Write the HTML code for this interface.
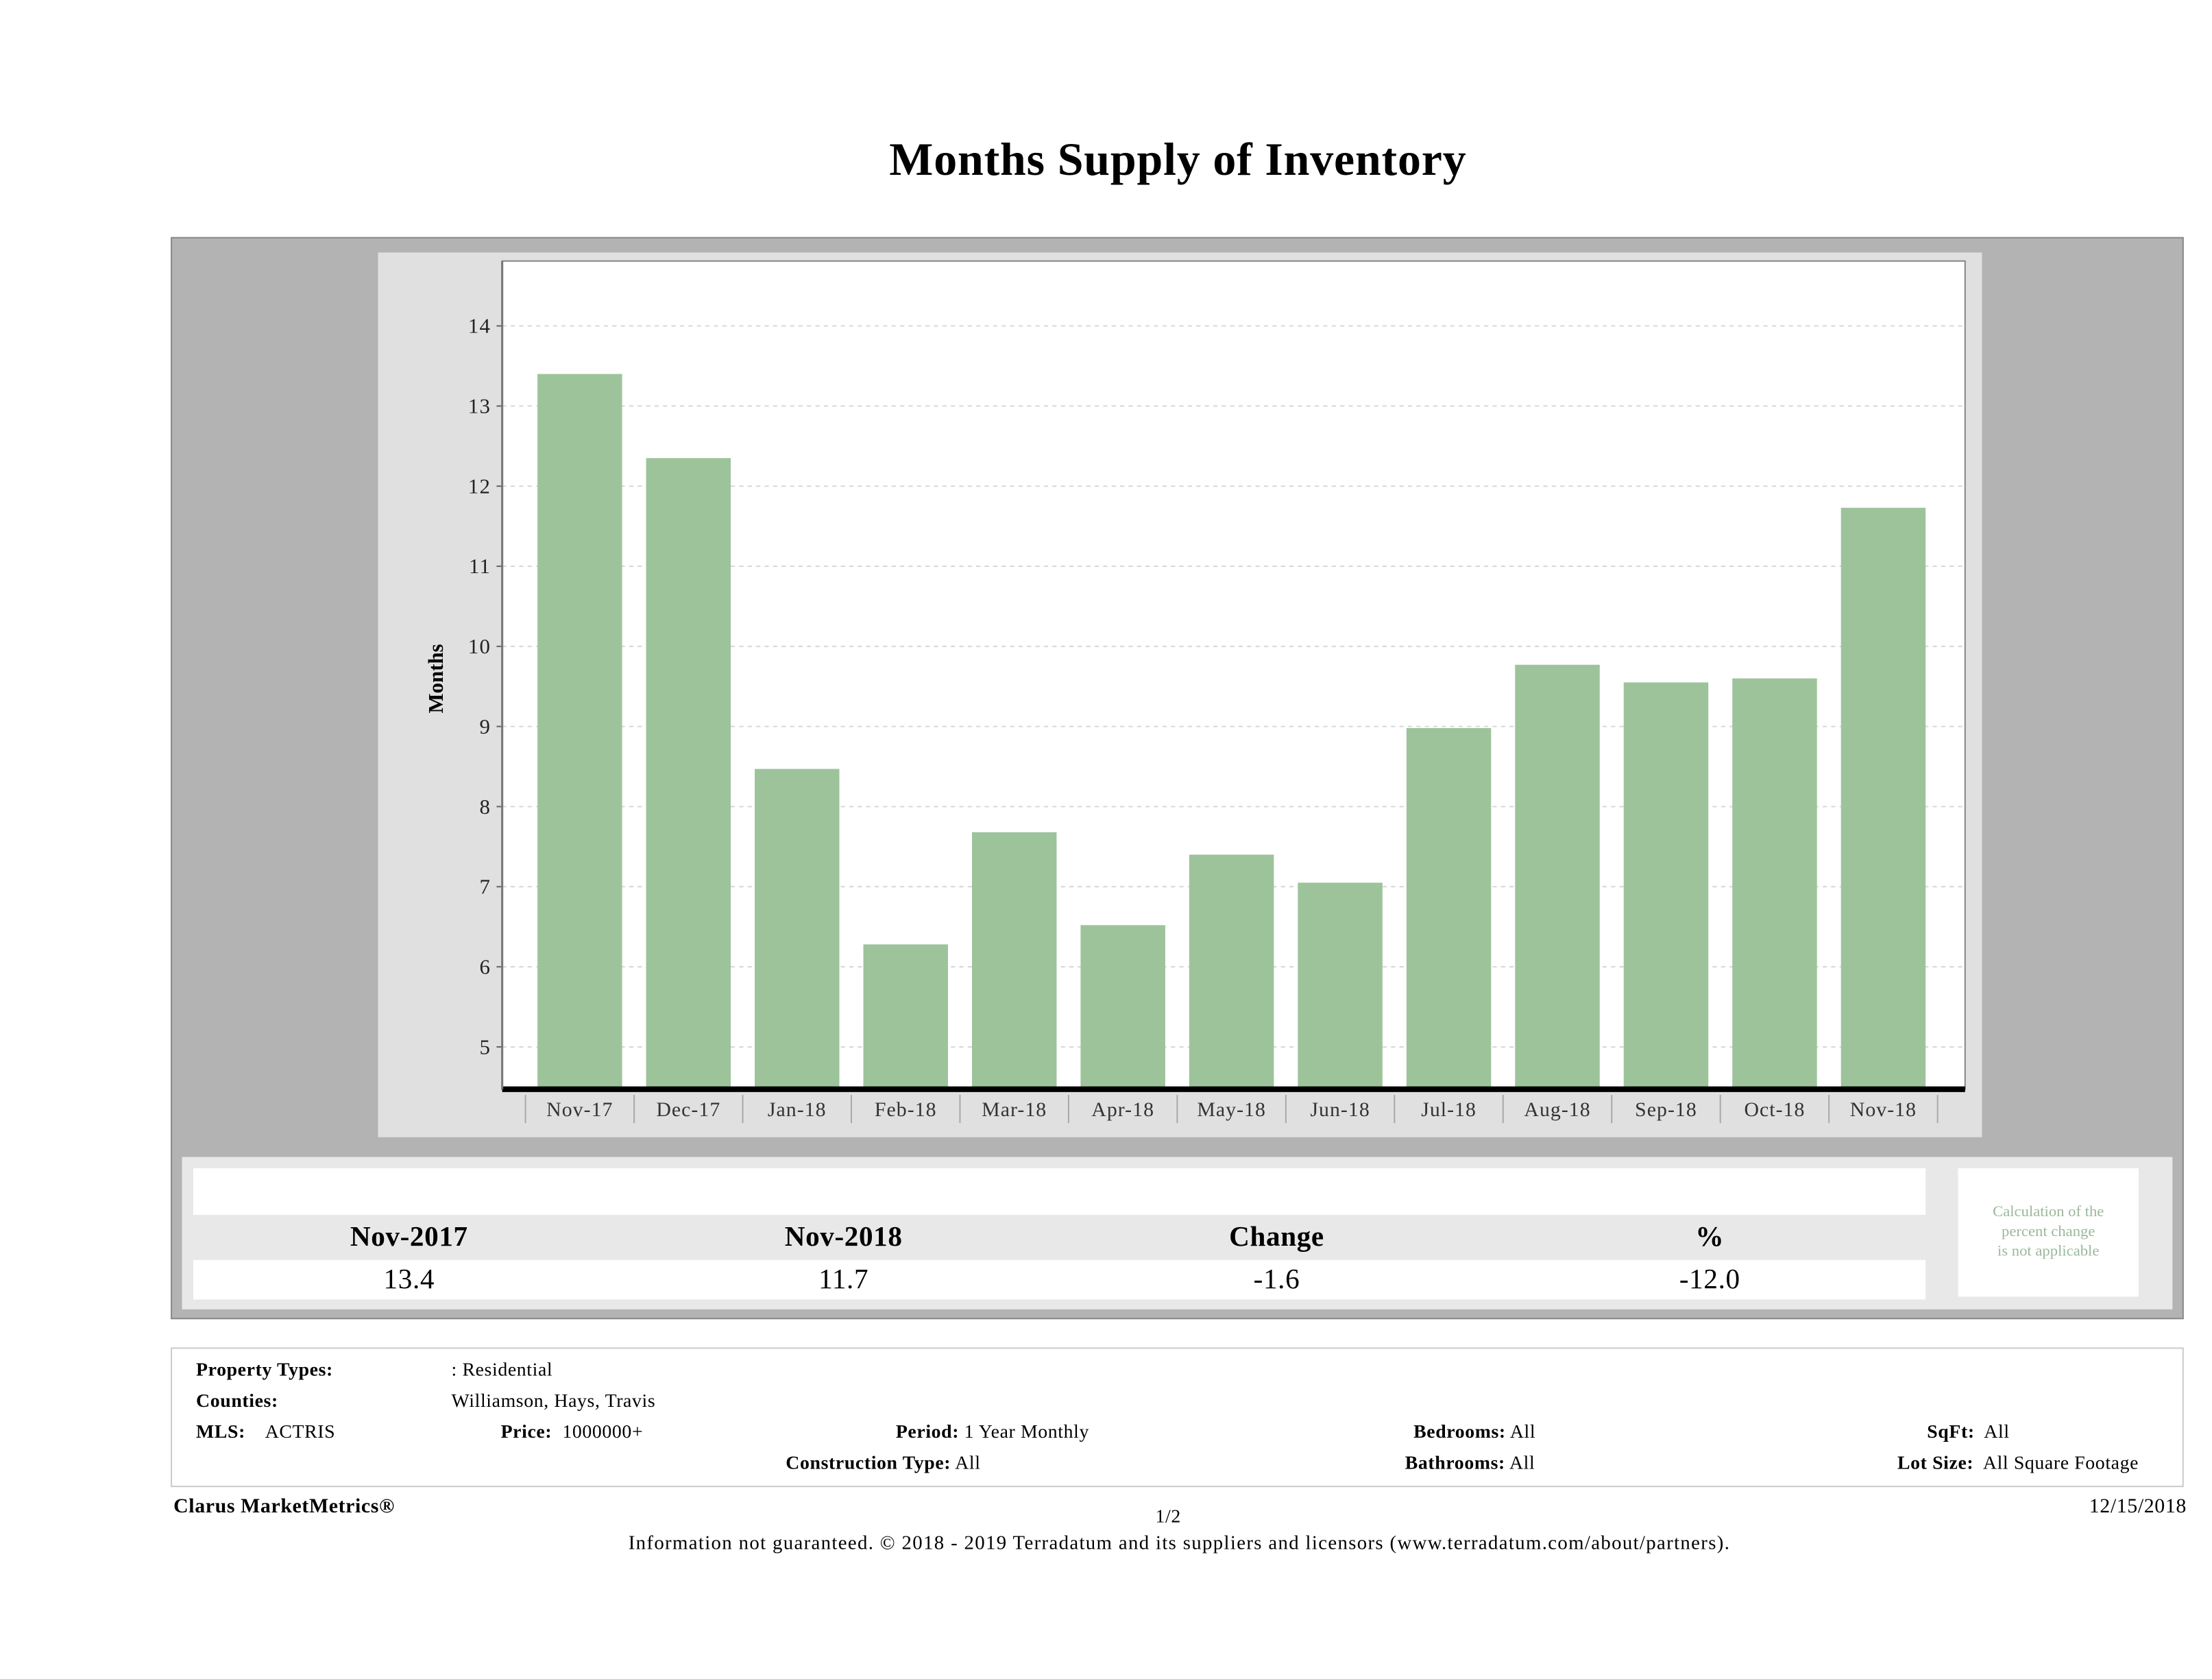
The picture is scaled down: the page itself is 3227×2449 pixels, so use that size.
<!DOCTYPE html>
<html><head><meta charset="utf-8"><style>
html,body{margin:0;padding:0;background:#fff;}
body{width:3227px;height:2448px;overflow:hidden;position:relative;font-family:"Liberation Serif",serif;}
#wrap{position:absolute;left:0;top:0;width:1568px;height:1190px;transform:scale(2.058);transform-origin:0 0;}
.a{position:absolute;}
.t{position:absolute;white-space:nowrap;color:#000;font-size:13.5px;letter-spacing:0.3px;}
.b{font-weight:bold;}
</style></head><body>
<div id="wrap">
<div class="t b" style="left:0;width:1670px;text-align:center;top:96px;font-size:33px;letter-spacing:0.4px;">Months Supply of Inventory</div>
<div class="a" style="left:121px;top:168px;width:1425px;height:765px;background:#b3b3b3;border:1px solid #8a8a8a;"></div>
<svg class="a" id="chart" style="left:0;top:0" width="1568" height="820"></svg>
<div class="a" style="left:129px;top:820px;width:1411px;height:108px;background:#e8e8e8;"></div>
<div class="a" style="left:137px;top:828px;width:1228px;height:33px;background:#fff;"></div>
<div class="a" style="left:137px;top:893px;width:1228px;height:28px;background:#fff;"></div>
<div class="a" style="left:1388px;top:828px;width:128px;height:91px;background:#fff;"></div>
<div class="t" style="left:1388px;width:128px;top:852px;text-align:center;font-size:11px;letter-spacing:0;line-height:14px;color:#9bb89b;white-space:normal;">Calculation of the<br>percent change<br>is not applicable</div>
<div class="t b" style="left:190px;width:200px;text-align:center;top:866px;font-size:20px;">Nov-2017</div>
<div class="t b" style="left:498px;width:200px;text-align:center;top:866px;font-size:20px;">Nov-2018</div>
<div class="t b" style="left:805px;width:200px;text-align:center;top:866px;font-size:20px;">Change</div>
<div class="t b" style="left:1112px;width:200px;text-align:center;top:866px;font-size:20px;">%</div>
<div class="t" style="left:190px;width:200px;text-align:center;top:896px;font-size:20px;">13.4</div>
<div class="t" style="left:498px;width:200px;text-align:center;top:896px;font-size:20px;">11.7</div>
<div class="t" style="left:805px;width:200px;text-align:center;top:896px;font-size:20px;">-1.6</div>
<div class="t" style="left:1112px;width:200px;text-align:center;top:896px;font-size:20px;">-12.0</div>
<div class="a" style="left:121px;top:955px;width:1425px;height:97px;border:1px solid #ccc;background:#fff;"></div>
<div class="t b" style="left:139px;top:963px;">Property Types:</div>
<div class="t" style="left:320px;top:963px;">: Residential</div>
<div class="t b" style="left:139px;top:985px;">Counties:</div>
<div class="t" style="left:320px;top:985px;">Williamson, Hays, Travis</div>
<div class="t" style="left:139px;top:1007px;"><b>MLS:</b>&nbsp;&nbsp;&nbsp; ACTRIS</div>
<div class="t" style="left:355px;top:1007px;"><b>Price:</b>&nbsp; 1000000+</div>
<div class="t" style="left:635px;top:1007px;"><b>Period:</b> 1 Year Monthly</div>
<div class="t" style="left:1002px;top:1007px;"><b>Bedrooms:</b> All</div>
<div class="t" style="left:1366px;top:1007px;"><b>SqFt:</b>&nbsp; All</div>
<div class="t" style="left:557px;top:1029px;"><b>Construction Type:</b> All</div>
<div class="t" style="left:996px;top:1029px;"><b>Bathrooms:</b> All</div>
<div class="t" style="left:1345px;top:1029px;"><b>Lot Size:</b>&nbsp; All Square Footage</div>
<div class="t b" style="left:123px;top:1060px;font-size:14.5px;">Clarus MarketMetrics®</div>
<div class="t" style="left:819px;top:1067px;">1/2</div>
<div class="t" style="right:18px;top:1060px;font-size:14.5px;">12/15/2018</div>
<div class="t" style="left:0;width:1672px;text-align:center;top:1087px;font-size:14px;letter-spacing:0.65px;">Information not guaranteed. © 2018 - 2019 Terradatum and its suppliers and licensors (www.terradatum.com/about/partners).</div>
</div>
<script>
const categories=["Nov-17","Dec-17","Jan-18","Feb-18","Mar-18","Apr-18","May-18","Jun-18","Jul-18","Aug-18","Sep-18","Oct-18","Nov-18"];
const values=[13.4,12.35,8.47,6.28,7.68,6.52,7.4,7.05,8.98,9.77,9.55,9.6,11.73];
const yTicks=[5,6,7,8,9,10,11,12,13,14];
const NS="http://www.w3.org/2000/svg";
const svg=document.getElementById('chart');
function mk(tag,attrs,parent){const e=document.createElementNS(NS,tag);for(const k in attrs)e.setAttribute(k,attrs[k]);(parent||svg).appendChild(e);return e;}
const plotL=356,plotR=1393,plotT=185,plotB=772;
function y(v){return 742-(v-5)*(742-231)/9;}
const firstC=411,step=(1335-411)/12;
function x(i){return firstC+i*step;}
let e;
e=mk('rect',{x:268,y:179,width:1137,height:627,fill:'#e0e0e0'});


e=mk('rect',{x:plotL,y:plotT,width:plotR-plotL,height:plotB-plotT,fill:'#fff',stroke:'#888','stroke-width':1});


yTicks.forEach(v=>{
 e=mk('line',{x1:plotL,x2:plotR,y1:y(v),y2:y(v),stroke:'#d8d8d8','stroke-dasharray':'3,3'});
 
 
 mk('line',{x1:plotL-4,x2:plotL,y1:y(v),y2:y(v),stroke:'#666'});
 e=mk('text',{x:plotL-8,y:y(v)+5,'text-anchor':'end','font-size':15,'letter-spacing':0.6,'font-family':'Liberation Serif, serif',fill:'#222'});
 e.textContent=v;
 
 
});
categories.forEach((c,i)=>{
 const bw=60;
 e=mk('rect',{x:x(i)-bw/2,y:y(values[i]),width:bw,height:plotB-y(values[i]),fill:'#9dc39b'});
 
 
 e=mk('text',{x:x(i),y:791,'text-anchor':'middle','font-size':14.5,'letter-spacing':0.5,'font-family':'Liberation Serif, serif',fill:'#333'});
 e.textContent=c;
 
 
 const sx=x(i)-step/2;
 mk('line',{x1:sx,x2:sx,y1:776,y2:796,stroke:'#aaa'});
 if(i===categories.length-1)mk('line',{x1:sx+step,x2:sx+step,y1:776,y2:796,stroke:'#aaa'});
});
e=mk('line',{x1:plotL,x2:plotR,y1:plotB,y2:plotB,stroke:'#000','stroke-width':4});


e=mk('line',{x1:plotL,x2:plotL,y1:plotT,y2:plotB,stroke:'#777','stroke-width':1.5});


e=mk('text',{x:314,y:481,'text-anchor':'middle','font-size':15,'font-weight':'bold','font-family':'Liberation Serif, serif',transform:'rotate(-90 314 481)'});
e.textContent='Months';


</script>
</body></html>
